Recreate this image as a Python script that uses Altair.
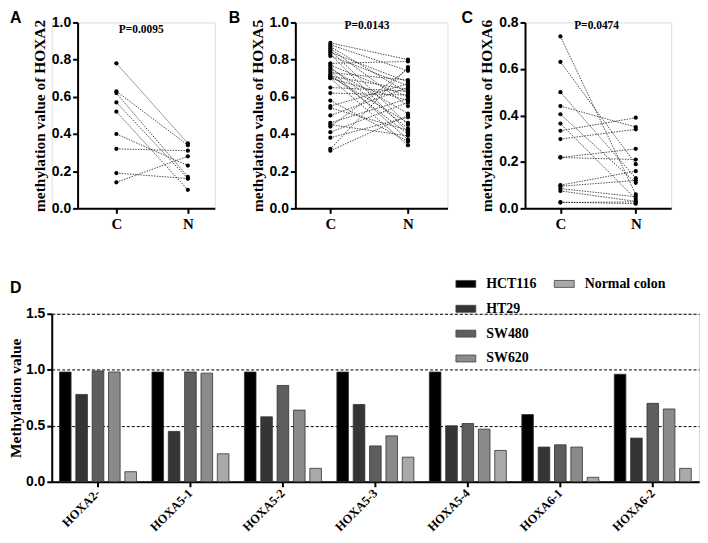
import altair as alt
import pandas as pd

SERIF = "Liberation Serif"
SANS = "Liberation Sans"

# ---------------- Panel A (HOXA2) ----------------
A_C = [0.78, 0.63, 0.62, 0.57, 0.52, 0.40, 0.32, 0.19, 0.14]
A_N = [0.35, 0.34, 0.17, 0.16, 0.10, 0.23, 0.31, 0.16, 0.28]

# ---------------- Panel B (HOXA5) ----------------
B_C = [0.89, 0.88, 0.87, 0.86, 0.85, 0.84, 0.83, 0.82, 0.78, 0.77, 0.76, 0.75,
       0.74, 0.73, 0.72, 0.71, 0.71, 0.70, 0.70, 0.65, 0.62, 0.58, 0.55, 0.54,
       0.50, 0.46, 0.45, 0.44, 0.41, 0.38, 0.32, 0.31]
B_N = [0.80, 0.74, 0.62, 0.55, 0.45, 0.68, 0.41, 0.66, 0.79, 0.60, 0.43, 0.51,
       0.37, 0.69, 0.40, 0.64, 0.46, 0.58, 0.34, 0.63, 0.61, 0.36, 0.67, 0.42,
       0.65, 0.59, 0.39, 0.75, 0.57, 0.49, 0.76, 0.50]

# ---------------- Panel C (HOXA6) ----------------
C_C = [0.74, 0.63, 0.50, 0.44, 0.405, 0.365, 0.334, 0.298, 0.219, 0.219,
       0.10, 0.095, 0.085, 0.075, 0.027, 0.025]
C_N = [0.06, 0.19, 0.13, 0.35, 0.11, 0.04, 0.39, 0.34, 0.256, 0.21,
       0.16, 0.12, 0.05, 0.03, 0.02, 0.028]

# ---------------- Panel D (bars) ----------------
CATS = ["HOXA2-", "HOXA5-1", "HOXA5-2", "HOXA5-3", "HOXA5-4", "HOXA6-1", "HOXA6-2"]
SERIES = ["HCT116", "HT29", "SW480", "SW620", "Normal colon"]
HCT116 = [0.98, 0.98, 0.98, 0.98, 0.98, 0.60, 0.96]
HT29 = [0.78, 0.45, 0.58, 0.69, 0.50, 0.31, 0.39]
SW480 = [0.99, 0.98, 0.86, 0.32, 0.52, 0.33, 0.70]
SW620 = [0.98, 0.97, 0.64, 0.41, 0.47, 0.31, 0.65]
NORMAL = [0.09, 0.25, 0.12, 0.22, 0.28, 0.04, 0.12]
COLORS = ["#000000", "#353535", "#5e5e5e", "#8a8a8a", "#a9a9a9"]


def paired_df(cvals, nvals):
    rows = []
    for i, (c, n) in enumerate(zip(cvals, nvals)):
        rows.append({"pair": i, "grp": "C", "v": c})
        rows.append({"pair": i, "grp": "N", "v": n})
    return pd.DataFrame(rows)


def panel(cvals, nvals, ymax, yticks, ytitle, pval, letter, w, h,
          xpad, xalign, letter_x, p_x, p_y, inset=0):
    df = paired_df(cvals, nvals)
    sc = dict(domain=["C", "N"], padding=xpad, align=xalign)
    if inset:
        sc["range"] = [inset, w]
    xenc = alt.X(
        "grp:N",
        scale=alt.Scale(**sc),
        axis=alt.Axis(title=None, labelAngle=0, labelFont=SERIF,
                      labelFontWeight="bold", labelFontSize=15,
                      labelColor="black", domainColor="black", domainWidth=2,
                      tickColor="black", tickWidth=2, tickSize=5,
                      labelPadding=3, grid=False, labelOverlap=False),
    )
    yax = dict(title=ytitle, values=yticks, format=".1f", grid=False,
               labelFont=SANS, labelFontWeight="bold", labelFontSize=14,
               labelColor="black", labelPadding=2, labelOverlap=False,
               domainColor="black", domainWidth=2,
               tickColor="black", tickWidth=2, tickSize=5,
               titleFont=SERIF, titleFontWeight="bold",
               titleFontSize=15.5, titleColor="black", titlePadding=4)
    if inset:
        yax["offset"] = -inset
    yenc = alt.Y(
        "v:Q",
        scale=alt.Scale(domain=[0, ymax], nice=False, zero=True),
        axis=alt.Axis(**yax),
    )
    base = alt.Chart(df)
    lines = base.mark_line(strokeDash=[1.5, 1.2], strokeWidth=0.8,
                           color="#222222").encode(x=xenc, y=yenc,
                                                   detail="pair:N")
    pts = base.mark_circle(size=18, color="black", opacity=1).encode(
        x=xenc, y=yenc)
    ptxt = alt.Chart(pd.DataFrame({"t": [pval]})).mark_text(
        font=SERIF, fontWeight="bold", fontSize=11.5, color="black",
        align="center", baseline="middle").encode(
        text="t:N", x=alt.value(p_x), y=alt.value(p_y))
    ltxt = alt.Chart(pd.DataFrame({"t": [letter]})).mark_text(
        font=SANS, fontWeight="bold", fontSize=16, color="black",
        align="left", baseline="alphabetic").encode(
        text="t:N", x=alt.value(letter_x), y=alt.value(1))
    return alt.layer(lines, pts, ptxt, ltxt).properties(width=w, height=h)


# panel A: plot area starts at the same x as panel D; its axes sit 26px in
pA = panel(A_C, A_N, 1.0, [0, 0.2, 0.4, 0.6, 0.8, 1.0],
           "methylation value of HOXA2", "P=0.0095", "A", 164, 187,
           0.46, 0.59, -42, 90, 8, inset=26)
pB = panel(B_C, B_N, 1.0, [0, 0.2, 0.4, 0.6, 0.8, 1.0],
           "methylation value of HOXA5", "P=0.0143", "B", 153, 187,
           0.48, 0.47, -67, 72, 4)
pC = panel(C_C, C_N, 0.8, [0, 0.2, 0.4, 0.6, 0.8],
           "methylation value of HOXA6", "P=0.0474", "C", 147, 187,
           0.47, 0.5, -64, 72, 4)

top = alt.hconcat(pA, pB, pC, spacing=12)

# ---------------- bars ----------------
rows = []
for s, vals in zip(SERIES, [HCT116, HT29, SW480, SW620, NORMAL]):
    for c, v in zip(CATS, vals):
        rows.append({"cat": c, "series": s, "v": v})
dfD = pd.DataFrame(rows)

xD = alt.X("cat:N", sort=CATS,
           scale=alt.Scale(paddingInner=0.1, paddingOuter=0.05),
           axis=alt.Axis(title=None, labelAngle=-45, labelAlign="right",
                         labelBaseline="middle", labelFont=SERIF,
                         labelFontWeight="bold", labelFontSize=12.5,
                         labelColor="black", labelPadding=4,
                         labelOverlap=False,
                         domainColor="black", domainWidth=2,
                         tickColor="black", tickWidth=2, tickSize=5))
xoD = alt.XOffset("series:N", sort=SERIES,
                  scale=alt.Scale(domain=SERIES, paddingInner=0.29,
                                  paddingOuter=0.19))
yD = alt.Y("v:Q", scale=alt.Scale(domain=[0, 1.5], nice=False),
           axis=alt.Axis(title="Methylation value", values=[0, 0.5, 1.0, 1.5],
                         format=".1f", grid=True, gridColor="black",
                         gridDash=[3, 2], gridWidth=1, labelOverlap=False,
                         labelFont=SANS, labelFontWeight="bold",
                         labelFontSize=14, labelColor="black", labelPadding=2,
                         domainColor="black", domainWidth=2,
                         tickColor="black", tickWidth=2, tickSize=5,
                         titleFont=SERIF, titleFontWeight="bold",
                         titleFontSize=15.5, titleColor="black",
                         titlePadding=2))

SWATCH = "M-1,-0.35L1,-0.35L1,0.35L-1,0.35Z"


def leg(x, y):
    return alt.Legend(title=None, orient="none", legendX=x, legendY=y,
                      symbolType=SWATCH, symbolSize=400,
                      symbolStrokeColor="#444444", symbolStrokeWidth=0.8,
                      symbolOpacity=1, labelFont=SERIF, labelFontWeight="bold",
                      labelFontSize=14, labelColor="black", labelOffset=10,
                      rowPadding=7, padding=0)


baseD = alt.Chart(dfD)
bars1 = baseD.transform_filter(alt.datum.series != "Normal colon").mark_bar(
    stroke="#333333", strokeWidth=0.8, opacity=1).encode(
    x=xD, xOffset=xoD, y=yD,
    color=alt.Color("series:N", sort=SERIES[:4],
                    scale=alt.Scale(domain=SERIES[:4], range=COLORS[:4]),
                    legend=leg(406, -40.5)))
bars2 = baseD.transform_filter(alt.datum.series == "Normal colon").mark_bar(
    stroke="#333333", strokeWidth=0.8, opacity=1).encode(
    x=xD, xOffset=xoD, y=yD,
    color=alt.Color("series:N",
                    scale=alt.Scale(domain=SERIES[4:], range=COLORS[4:]),
                    legend=leg(505, -40.5)))
ltxtD = alt.Chart(pd.DataFrame({"t": ["D"]})).mark_text(
    font=SANS, fontWeight="bold", fontSize=16, color="black",
    align="left", baseline="alphabetic").encode(
    text="t:N", x=alt.value(-42), y=alt.value(-21))

pD = alt.layer(bars1, bars2, ltxtD).resolve_scale(color="independent").properties(
    width=651, height=169)

chart = alt.vconcat(top, pD, spacing=41).properties(
    padding=0).configure_view(stroke=None).configure_legend(
    labelFont=SERIF, labelFontWeight="bold").configure(background="white")

chart.save("out.html", embed_options={"renderer": "svg", "actions": False})
